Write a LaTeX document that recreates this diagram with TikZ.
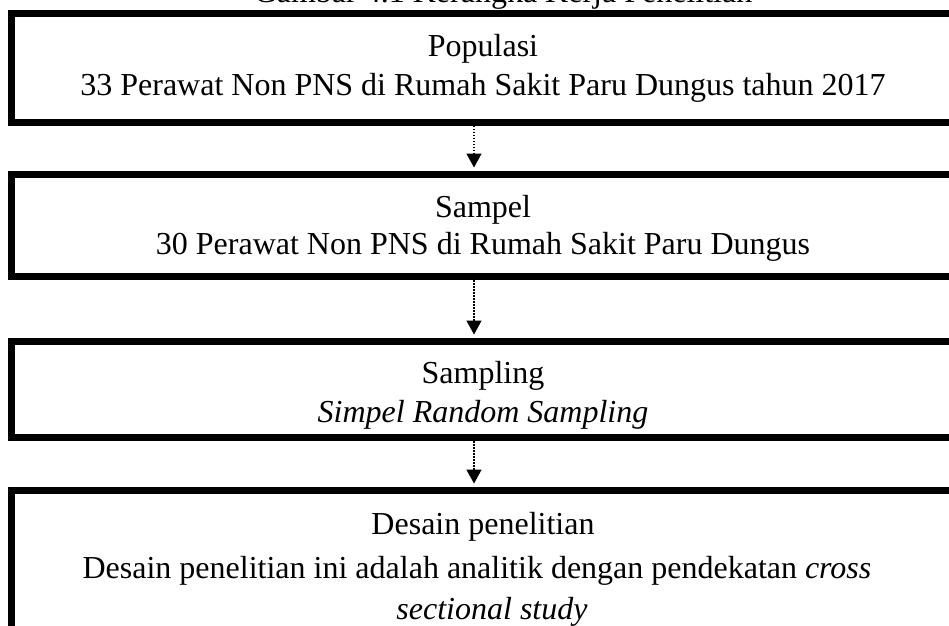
\documentclass[tikz,border=0pt]{standalone}
\usepackage{fontspec}
\setmainfont{Liberation Serif}
\usetikzlibrary{arrows.meta}
\begin{document}
\begin{tikzpicture}[x=1pt,y=-1pt,
  frame/.style={draw=black,line width=7pt,rectangle,inner sep=0pt,minimum width=948.5pt},
  txt/.style={anchor=base,inner sep=0pt,font=\fontsize{32}{38}\selectfont},
  flow/.style={line width=1.5pt,dash pattern=on 1.5pt off 1.5pt,shorten >=3.5pt,
    -{Triangle[length=14pt,width=15pt]}}]
\clip (0,0) rectangle (949,625);
\fill[white] (0,0) rectangle (949,625);
\node[txt] (title) at (503,2) {Gambar 4.1 Kerangka Kerja Penelitian};
% boxes
\node[frame,minimum height=108.5pt] (b1) at (485.75,67.75) {};
\node[frame,minimum height=102pt] (b2) at (485.75,225.5) {};
\node[frame,minimum height=96pt] (b3) at (485.75,389.5) {};
\node[frame,minimum height=160pt] (b4) at (485.75,570.5) {};
% texts
\node[txt] (t1a) at (483,56) {Populasi};
\node[txt] (t1b) at (483,95) {33 Perawat Non PNS di Rumah Sakit Paru Dungus tahun 2017};
\node[txt] (t2a) at (483,217) {Sampel};
\node[txt] (t2b) at (483,254) {30 Perawat Non PNS di Rumah Sakit Paru Dungus};
\node[txt] (t3a) at (483,383) {Sampling};
\node[txt] (t3b) at (483,422) {\itshape Simpel Random Sampling};
\node[txt] (t4a) at (483,534) {Desain penelitian};
\node[txt] (t4b) at (477,578) {Desain penelitian ini adalah analitik dengan pendekatan \textit{cross}};
\node[txt] (t4c) at (492,619) {\itshape sectional study};
% connectors
\coordinate (ax) at (474,0);
\draw[flow] (b1.south -| ax) -- (b2.north -| ax);
\draw[flow] (b2.south -| ax) -- (b3.north -| ax);
\draw[flow] (b3.south -| ax) -- (b4.north -| ax);
\end{tikzpicture}
\end{document}
